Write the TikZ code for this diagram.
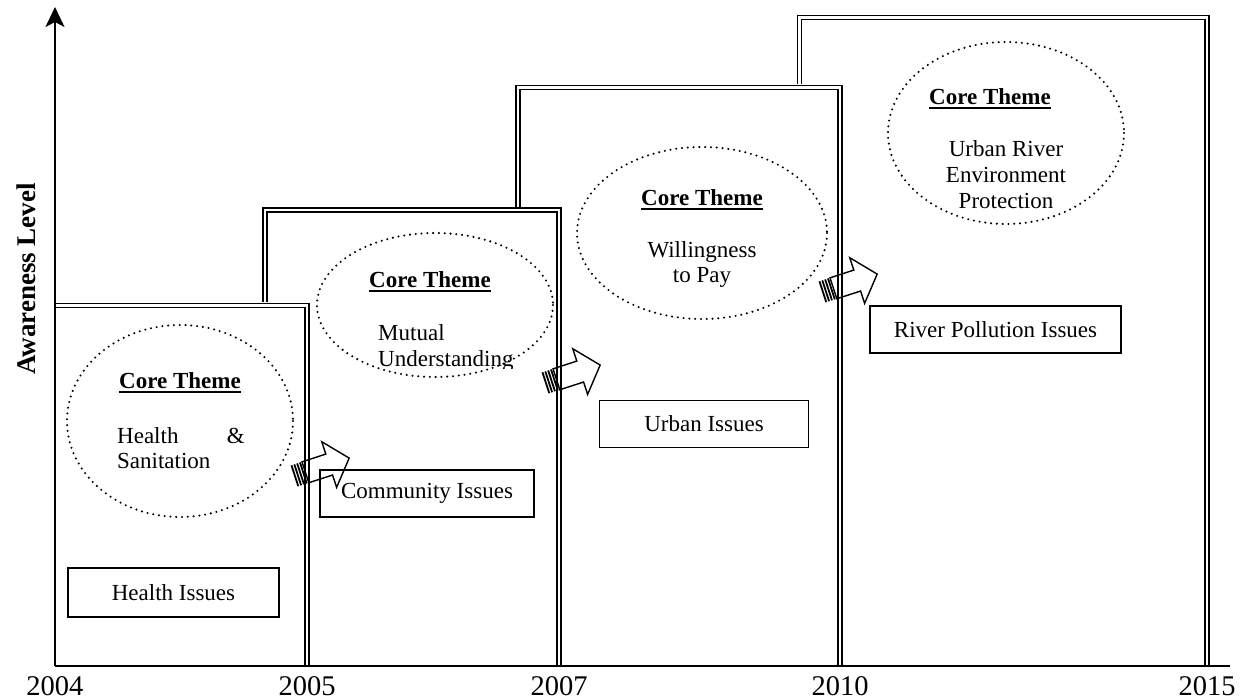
\documentclass[tikz,border=0pt]{standalone}
\usepackage{fontspec}
\setmainfont{Liberation Serif}
\usetikzlibrary{arrows.meta}

% underlined bold heading used in every theme ellipse
\newcommand{\coretheme}{\setbox0\hbox{\bfseries Core Theme}\rlap{\rule[-4pt]{\wd0}{1.8pt}}\box0}

\begin{document}
\begin{tikzpicture}[x=1pt,y=-1pt,
  stage/.style={line width=1.6pt, double, double distance=2.4pt},
  axisline/.style={line width=1.5pt},
  dots/.style={line width=2.3pt, dash pattern=on 0pt off 5.8pt, line cap=round},
  issue/.style={draw, line width=1.4pt, inner sep=0pt, font=\fontsize{23}{25}\selectfont},
  body/.style={inner sep=0pt, font=\fontsize{23}{25}\selectfont},
  year/.style={inner sep=0pt, anchor=base, font=\fontsize{28.5}{30}\selectfont},
  blockarrow/.style={line width=1.4pt, line join=miter}
]
\useasboundingbox (0,0) rectangle (1245,700);

% ---- stair-step stages (back to front) ----
\fill[white] (796,14) rectangle (1210,666);
\draw[stage] (799.5,666) -- (799.5,17.5) -- (1207,17.5) -- (1207,666);
\fill[white] (515,84) rectangle (843,666);
\draw[stage] (518,666) -- (518,87.5) -- (840,87.5) -- (840,666);
\fill[white] (262,207) rectangle (562,666);
\draw[stage] (265,666) -- (265,210) -- (559,210) -- (559,666);
\fill[white] (55,302) rectangle (310,666);
\draw[stage] (55,305.5) -- (307,305.5) -- (307,666);

% ---- axes ----
\coordinate (origin) at (55,666);
\coordinate (ytop) at (55,7);
\coordinate (xend) at (1230,666);
\draw[axisline, -{Stealth[length=20pt,width=19pt,inset=5pt]}] (origin) -- (ytop);
\draw[axisline] (origin) -- (xend);

\node[rotate=90, anchor=base, inner sep=0pt, font=\fontsize{27}{30}\selectfont\bfseries] (awareness) at (35,279) {Awareness Level};

\node[year] (y2004) at (55,695) {2004};
\node[year] (y2005) at (307,695) {2005};
\node[year] (y2007) at (559,695) {2007};
\node[year] (y2010) at (840,695) {2010};
\node[year] (y2015) at (1207,695) {2015};

% ---- theme ellipses ----
\draw[dots] (180,421) ellipse [x radius=113, y radius=96];
\node[body, anchor=base] (t1) at (180,389) {\coretheme};
\node[body, anchor=base west] (t1a) at (117,443) {Health};
\node[body, anchor=base east] (t1b) at (245,443) {\&};
\node[body, anchor=base west] (t1c) at (117,468) {Sanitation};

\draw[dots] (435,305) ellipse [x radius=118, y radius=72];
\node[body, anchor=base] (t2) at (430,288) {\coretheme};
\node[body, anchor=base west] (t2a) at (378,341) {Mutual};
\begin{scope}
  \clip (300,340) rectangle (560,369);
  \node[body, anchor=base west] (t2b) at (378,367) {Understanding};
\end{scope}

\draw[dots] (702,233) ellipse [x radius=125, y radius=86];
\node[body, anchor=base] (t3) at (702,206) {\coretheme};
\node[body, anchor=base] (t3a) at (702,258) {Willingness};
\node[body, anchor=base] (t3b) at (702,283) {to Pay};

\draw[dots] (1006,133) ellipse [x radius=118, y radius=91];
\node[body, anchor=base] (t4) at (990,105) {\coretheme};
\node[body, anchor=base] (t4a) at (1006,157) {Urban River};
\node[body, anchor=base] (t4b) at (1006,183) {Environment};
\node[body, anchor=base] (t4c) at (1006,209) {Protection};

% ---- issue boxes ----
\node[issue, minimum width=211pt, minimum height=49pt] (health) at (173.5,592.5) {Health Issues};
\node[issue, minimum width=214pt, minimum height=47pt] (community) at (427,493.5) {Community Issues};
\node[issue, minimum width=209pt, minimum height=47pt] (urban) at (704,424) {Urban Issues};
\node[issue, minimum width=251pt, minimum height=47pt] (river) at (995.5,329.5) {River Pollution Issues};

% ---- striped block arrows ----
\foreach \px/\py in {294/476, 545/383, 822/292}{
  \begin{scope}[shift={(\px,\py)}, rotate=18]
    \foreach \s in {0,3,6,9}{
      \fill (\s,-11) rectangle ++(1.8,22);
    }
    \draw[blockarrow] (12,-11) -- (37,-11) -- (37,-24) -- (58,0) -- (37,24) -- (37,11) -- (12,11) -- cycle;
  \end{scope}
}
\end{tikzpicture}
\end{document}
